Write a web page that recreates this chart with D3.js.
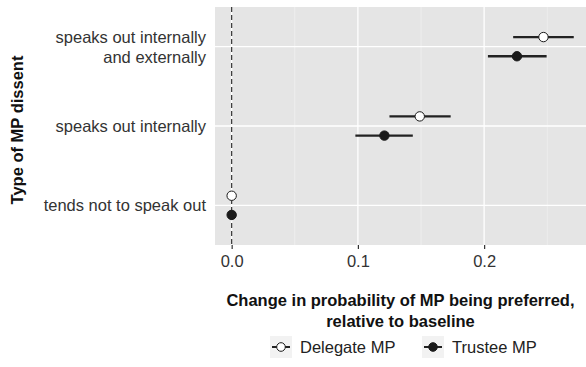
<!DOCTYPE html>
<html>
<head>
<meta charset="utf-8">
<script src="https://cdn.jsdelivr.net/npm/d3@7"></script>
<style>
  body { margin: 0; background: #fff; }
  svg text { font-family: "Liberation Sans", Arial, sans-serif; }
</style>
</head>
<body>
<div id="chart"></div>
<script>
const categories = ["speaks out internally\nand externally", "speaks out internally", "tends not to speak out"];
const series = ["Delegate MP", "Trustee MP"];
const delegateEst = [0.247, 0.149, 0];
const delegateLo = [0.223, 0.125, 0];
const delegateHi = [0.271, 0.1735, 0];
const trusteeEst = [0.226, 0.121, 0];
const trusteeLo = [0.203, 0.098, 0];
const trusteeHi = [0.2495, 0.1435, 0];
const xTicks = [0, 0.1, 0.2];
const xMinor = [0.05, 0.15, 0.25];

const W = 586, H = 367;
const panel = { left: 215, top: 7, right: 586, bottom: 245 };
const fs = 16.5;

const svg = d3.select("#chart").append("svg")
  .attr("width", W).attr("height", H);

const x = d3.scaleLinear().domain([-0.0132, 0.2807]).range([panel.left, panel.right]);
const y = d3.scalePoint().domain(categories).range([panel.top, panel.bottom]).padding(0.5);
const dodge = 9.6;

// panel background
svg.append("rect")
  .attr("x", panel.left).attr("y", panel.top)
  .attr("width", panel.right - panel.left).attr("height", panel.bottom - panel.top)
  .attr("fill", "#e5e5e5");

// grid
svg.selectAll(".minor").data(xMinor).enter().append("line")
  .attr("x1", d => x(d)).attr("x2", d => x(d))
  .attr("y1", panel.top).attr("y2", panel.bottom)
  .attr("stroke", "#f2f2f2").attr("stroke-width", 0.7);
svg.selectAll(".major").data(xTicks).enter().append("line")
  .attr("x1", d => x(d)).attr("x2", d => x(d))
  .attr("y1", panel.top).attr("y2", panel.bottom)
  .attr("stroke", "#fff").attr("stroke-width", 1.3);
svg.selectAll(".hgrid").data(categories).enter().append("line")
  .attr("x1", panel.left).attr("x2", panel.right)
  .attr("y1", d => y(d)).attr("y2", d => y(d))
  .attr("stroke", "#fff").attr("stroke-width", 1.3);

// dashed zero line
svg.append("line")
  .attr("x1", x(0)).attr("x2", x(0))
  .attr("y1", panel.top).attr("y2", panel.bottom)
  .attr("stroke", "#333").attr("stroke-width", 1.2)
  .attr("stroke-dasharray", "5,3");

// x axis
const xAxis = svg.append("g")
  .attr("transform", `translate(0,${panel.bottom})`)
  .call(d3.axisBottom(x).tickValues(xTicks).tickFormat(d3.format(".1f")).tickSize(4).tickPadding(6));
xAxis.select(".domain").remove();
xAxis.selectAll(".tick line").attr("stroke", "#333").attr("stroke-width", 1.2);
xAxis.selectAll(".tick text").attr("font-size", fs).attr("fill", "#333");

// y labels
const yl = svg.append("g");
categories.forEach(c => {
  const lines = c.split("\n");
  const lh = 20;
  const t = yl.append("text")
    .attr("text-anchor", "end").attr("font-size", fs).attr("fill", "#333");
  lines.forEach((ln, i) => {
    t.append("tspan").attr("x", 206)
      .attr("y", y(c) + (i - (lines.length - 1) / 2) * lh + 6)
      .text(ln);
  });
});

// titles
svg.append("text")
  .attr("transform", `translate(23,${(panel.top + panel.bottom) / 2 + 4}) rotate(-90)`)
  .attr("text-anchor", "middle").attr("font-size", fs).attr("font-weight", "bold")
  .attr("fill", "#111").text("Type of MP dissent");
const xt = svg.append("text").attr("text-anchor", "middle")
  .attr("font-size", fs).attr("font-weight", "bold").attr("fill", "#111");
xt.append("tspan").attr("x", (panel.left + panel.right) / 2).attr("y", 306)
  .text("Change in probability of MP being preferred,");
xt.append("tspan").attr("x", (panel.left + panel.right) / 2).attr("y", 327)
  .text("relative to baseline");

// data
const rows = [];
categories.forEach((c, i) => {
  rows.push({ cat: c, s: 0, est: delegateEst[i], lo: delegateLo[i], hi: delegateHi[i] });
  rows.push({ cat: c, s: 1, est: trusteeEst[i], lo: trusteeLo[i], hi: trusteeHi[i] });
});
const yPos = d => y(d.cat) + (d.s === 0 ? -dodge : dodge);

svg.selectAll(".ci").data(rows).enter().append("line")
  .attr("x1", d => x(d.lo)).attr("x2", d => x(d.hi))
  .attr("y1", yPos).attr("y2", yPos)
  .attr("stroke", "#222").attr("stroke-width", 2.3);
svg.selectAll(".pt").data(rows).enter().append("circle")
  .attr("cx", d => x(d.est)).attr("cy", yPos).attr("r", 4.7)
  .attr("fill", d => d.s === 0 ? "#fff" : "#1a1a1a")
  .attr("stroke", "#1a1a1a").attr("stroke-width", 1);

// legend
const legX = [270, 422];
series.forEach((s, i) => {
  const g = svg.append("g").attr("transform", `translate(${legX[i]},336)`);
  g.append("rect").attr("width", 22).attr("height", 22).attr("fill", "#f2f2f2");
  g.append("line").attr("x1", 2).attr("x2", 20).attr("y1", 11).attr("y2", 11)
    .attr("stroke", "#222").attr("stroke-width", 2);
  g.append("circle").attr("cx", 11).attr("cy", 11).attr("r", 4.3)
    .attr("fill", i === 0 ? "#fff" : "#1a1a1a").attr("stroke", "#1a1a1a").attr("stroke-width", 1);
  g.append("text").attr("x", 30).attr("y", 17).attr("font-size", fs).attr("fill", "#222").text(s);
});
</script>
</body>
</html>
